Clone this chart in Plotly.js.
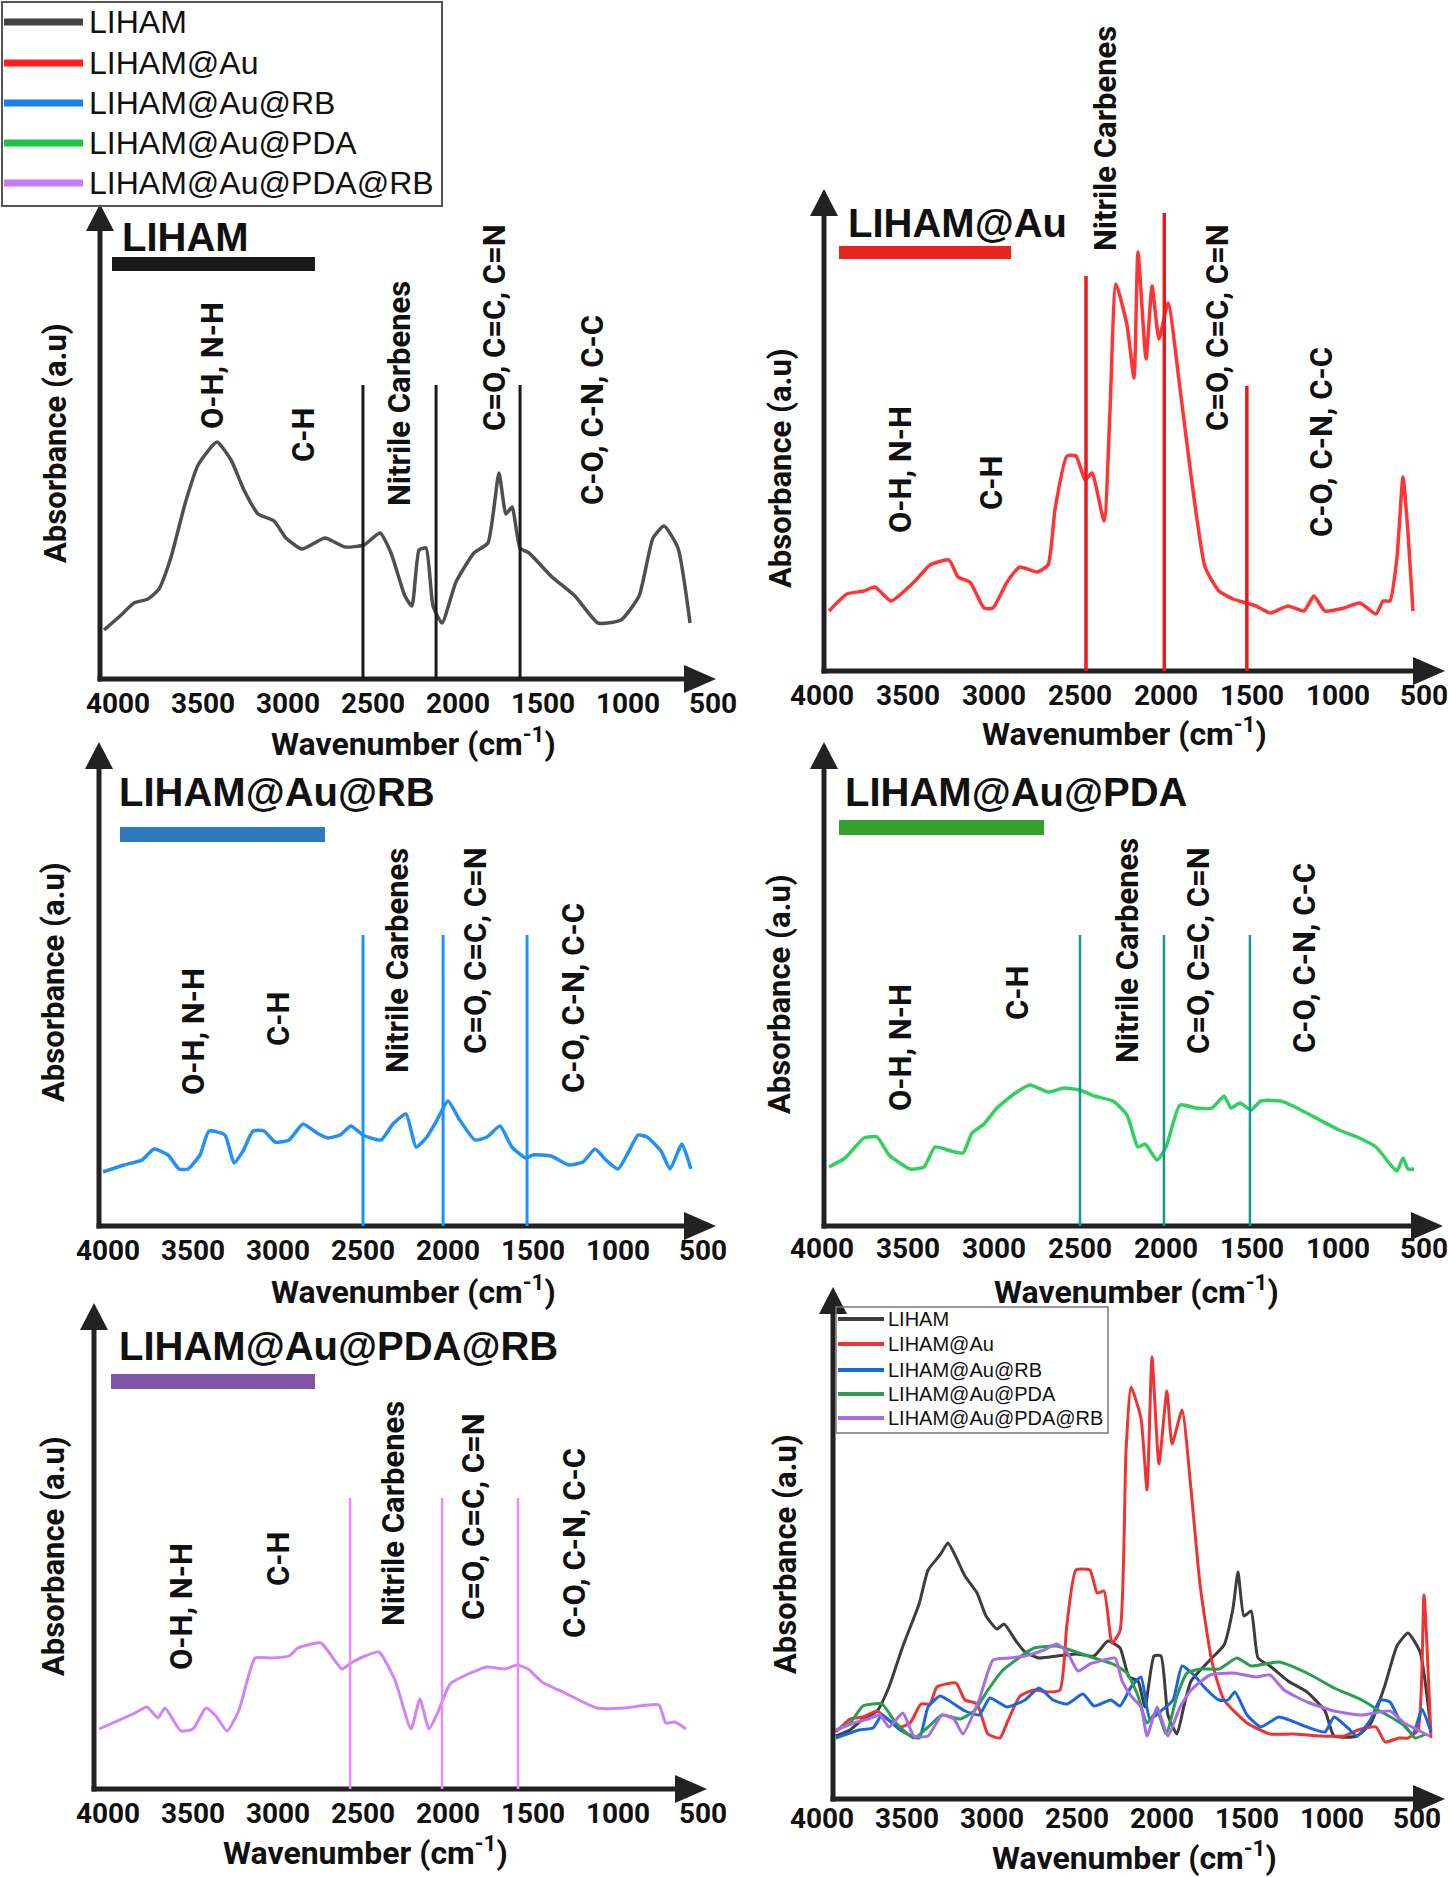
<!DOCTYPE html>
<html><head><meta charset="utf-8">
<script src="https://cdn.plot.ly/plotly-3.0.1.min.js"></script>
<style>html,body{margin:0;padding:0;background:#fff}#chart{width:1449px;height:1878px}</style>
</head><body><div id="chart"></div>
<script>
// ---------------- DATA ----------------
const seriesNames = ['LIHAM', 'LIHAM@Au', 'LIHAM@Au@RB', 'LIHAM@Au@PDA', 'LIHAM@Au@PDA@RB'];
const tickValues = [4000, 3500, 3000, 2500, 2000, 1500, 1000, 500];
const bandLabels = ['O-H, N-H', 'C-H', 'Nitrile Carbenes', 'C=O, C=C, C=N', 'C-O, C-N, C-C'];
const xTitle = 'Wavenumber (cm<sup>-1</sup>)';
const yTitle = 'Absorbance (a.u)';

// Panel 1: LIHAM
const lihamWn  = [4082,3988,3906,3824,3759,3688,3606,3529,3418,3335,3259,3176,3082,3012,2918,2782,2665,2553,2459,2394,2312,2271,2229,2188,2147,2094,2012,1906,1824,1759,1718,1682,1635,1582,1447,1312,1176,1041,935,853,788,706,635];
const lihamAbs = [49,63,76,80,90,122,175,214,237,219,189,165,158,141,130,141,132,134,146,126,83,73,129,131,73,56,97,126,136,206,165,172,131,126,102,83,56,59,83,141,153,131,56];
const lihamBands = [2559, 2129, 1635];
const lihamBandTop = [294, 294, 294];

// Panel 2: LIHAM@Au
const auWn  = [3959,3855,3756,3692,3599,3465,3372,3262,3209,3140,3058,3006,2924,2849,2750,2686,2645,2576,2523,2471,2430,2360,2326,2291,2227,2186,2163,2116,2081,2041,1988,1919,1855,1773,1692,1610,1477,1395,1290,1198,1140,1076,965,872,779,738,698,657,622,593,564];
const auAbs = [60,77,80,84,70,89,106,111,94,89,63,63,89,104,99,106,162,215,215,191,198,150,259,387,346,293,419,312,385,332,368,283,196,104,80,72,65,58,65,60,75,60,63,68,57,70,70,114,194,138,60];
const auBands = [2465, 2010, 1530];
const auBandTop = [395, 458, 285];

// Panel 3: LIHAM@Au@RB
const rbWn  = [4029,3906,3800,3729,3647,3582,3529,3459,3406,3312,3259,3206,3147,3082,3018,2935,2853,2771,2706,2635,2571,2500,2394,2324,2247,2188,2124,2071,2000,1935,1841,1771,1694,1624,1541,1500,1394,1288,1206,1135,1071,1000,935,882,829,747,694,624,571];
const rbAbs = [54,61,66,77,71,57,57,71,95,91,63,75,95,95,84,86,102,93,88,91,100,91,86,102,112,79,89,104,125,107,86,89,100,79,68,71,70,61,64,77,66,57,75,91,89,75,57,82,57];
const rbBands = [2500, 2029, 1535];
const rbBandTop = [291, 291, 291];

// Panel 4: LIHAM@Au@PDA
const pdaWn  = [3959,3866,3756,3680,3610,3488,3407,3343,3250,3180,3128,3058,2983,2884,2791,2686,2593,2500,2418,2308,2227,2163,2122,2052,2000,1919,1826,1732,1663,1622,1570,1506,1448,1331,1238,1116,994,889,779,698,657,622,593,558];
const pdaAbs = [59,68,88,89,71,57,59,79,75,73,93,102,118,132,141,134,138,136,130,125,111,79,82,66,79,121,118,118,130,118,123,116,125,125,118,107,96,89,79,62,55,68,57,57];
const pdaBands = [2500, 2012, 1512];
const pdaBandTop = [291, 291, 291];

// Panel 5: LIHAM@Au@PDA@RB
const pdaRbWn  = [4053,3959,3853,3771,3706,3665,3571,3500,3424,3365,3300,3229,3135,3041,2935,2882,2747,2624,2571,2488,2406,2312,2218,2165,2112,2059,1988,1894,1771,1665,1594,1529,1447,1312,1124,965,829,759,718,665,600];
const pdaRbAbs = [60,67,75,82,71,81,58,60,81,73,58,79,131,131,133,141,146,120,126,133,137,109,60,90,60,77,105,114,122,120,124,120,107,96,81,81,84,84,66,67,60];
const pdaRbBands = [2576, 2035, 1588];
const pdaRbBandTop = [291, 291, 291];

// Panel 6: overlay
const ovLihamWn  = [3918,3835,3759,3676,3606,3524,3429,3376,3306,3259,3212,3159,3088,3035,2971,2929,2859,2806,2724,2618,2506,2400,2318,2247,2194,2141,2100,2047,2006,1965,1912,1871,1829,1718,1635,1582,1553,1518,1476,1435,1365,1259,1147,1041,988,853,771,688,618,553,482,418];
const ovLihamAbs = [63,69,80,88,112,153,195,229,244,256,242,223,206,183,170,175,158,147,141,143,145,143,158,151,122,118,92,143,143,84,65,93,118,139,154,191,227,183,188,141,133,118,107,88,63,63,76,114,153,166,147,69];
const ovAuWn  = [3918,3835,3759,3676,3618,3541,3482,3418,3365,3324,3212,3159,3088,3024,2953,2912,2835,2753,2671,2600,2559,2506,2424,2382,2341,2294,2247,2212,2182,2124,2088,2059,2018,1971,1941,1882,1829,1776,1706,1635,1500,1365,1229,1065,929,847,741,688,606,553,494,459,418];
const ovAuAbs = [67,80,82,88,80,72,76,95,95,112,116,99,95,65,61,76,103,109,107,109,175,229,229,206,208,156,168,347,412,381,309,442,335,408,355,389,309,214,137,99,76,65,65,63,63,69,72,57,61,61,69,204,61];
const ovRbWn  = [3918,3782,3700,3647,3541,3429,3376,3306,3241,3159,3076,3012,2912,2806,2724,2641,2559,2465,2400,2300,2247,2182,2124,2071,2006,1935,1882,1812,1747,1665,1612,1571,1500,1418,1312,1147,1041,988,906,853,771,718,659,606,524,471,418];
const ovRbAbs = [61,69,71,84,69,61,92,103,97,88,84,101,92,99,111,99,95,105,93,99,93,112,122,80,88,99,133,124,111,99,99,107,84,72,82,72,67,82,71,63,80,99,97,80,65,90,67];
const ovPdaWn  = [3918,3835,3759,3647,3565,3459,3376,3294,3188,3106,3024,2941,2859,2753,2618,2506,2400,2288,2206,2141,2088,2029,1976,1912,1853,1771,1665,1559,1476,1312,1147,988,824,718,635,565,512,447];
const ovPdaAbs = [69,76,93,95,76,61,72,84,80,88,109,128,139,151,153,147,141,135,126,103,76,88,65,103,126,130,130,141,133,137,126,111,99,88,80,72,61,65];
const ovPdaRbWn  = [3918,3812,3729,3659,3606,3524,3459,3376,3294,3224,3171,3076,2994,2900,2806,2694,2618,2559,2494,2424,2341,2276,2235,2182,2124,2088,2029,1965,1894,1829,1718,1582,1447,1365,1282,1147,988,824,659,576,494,429];
const ovPdaRbAbs = [69,76,80,84,72,86,63,63,84,80,65,99,139,141,143,149,155,147,128,135,139,141,118,103,92,63,92,63,92,109,124,126,122,124,109,97,88,84,88,76,69,63];

// ---------------- LAYOUT / STYLE ----------------
const W = 1449, H = 1878;
const px = x => x / W, py = y => 1 - y / H;
const AX = '#222222';

const panels = [
  {axX:100, x4000:118, s:85, dx0:100, tipX:716, yb:679, tipY:204, pad:5,
   wn:lihamWn, abs:lihamAbs, color:'#4f4f4f', width:3.5, bands:lihamBands, bandTop:lihamBandTop, bandColor:'#1a1a1a', bandWidth:3,
   title:seriesNames[0], titleX:120, titleY:237, bar:[112,257,315,271], barColor:'#1a1a1a',
   labels:[[213,366],[303,435],[399,394],[494,328],[592,410]], yt:[55,443], xt:[413,742]},
  {axX:824, x4000:822, s:86, dx0:815, tipX:1445, yb:671, tipY:189, pad:5,
   wn:auWn, abs:auAbs, color:'#ff3434', width:3.5, bands:auBands, bandTop:auBandTop, bandColor:'#ea1a1a', bandWidth:3.5,
   title:seriesNames[1], titleX:846, titleY:223, bar:[839,246,1011,259], barColor:'#e8261f',
   labels:[[900,469],[992,483],[1106,139],[1217,328],[1321,442]], yt:[780,468], xt:[1124,732]},
  {axX:99, x4000:108, s:85, dx0:99, tipX:716, yb:1226, tipY:742, pad:5,
   wn:rbWn, abs:rbAbs, color:'#2490f5', width:3.5, bands:rbBands, bandTop:rbBandTop, bandColor:'#1e90ff', bandWidth:3,
   title:seriesNames[2], titleX:117, titleY:792, bar:[120,827,325,842], barColor:'#2f78bd',
   labels:[[193,1032],[278,1019],[397,961],[475,951],[574,998]], yt:[53,982], xt:[413,1290]},
  {axX:824, x4000:822, s:86, dx0:815, tipX:1443, yb:1226, tipY:742, pad:3,
   wn:pdaWn, abs:pdaAbs, color:'#33d060', width:3.5, bands:pdaBands, bandTop:pdaBandTop, bandColor:'#17978d', bandWidth:2.5,
   title:seriesNames[3], titleX:843, titleY:792, bar:[839,820,1044,835], barColor:'#35a02c',
   labels:[[900,1047],[1017,993],[1127,951],[1198,951],[1304,958]], yt:[780,994], xt:[1136,1290]},
  {axX:94, x4000:108, s:85, dx0:94, tipX:707, yb:1789, tipY:1303, pad:5,
   wn:pdaRbWn, abs:pdaRbAbs, color:'#d283f7', width:3, bands:pdaRbBands, bandTop:pdaRbBandTop, bandColor:'#ea8cf7', bandWidth:2.5,
   title:seriesNames[4], titleX:117, titleY:1346, bar:[111,1374,315,1389], barColor:'#7f56a5',
   labels:[[181,1607],[278,1559],[393,1513],[473,1516],[574,1543]], yt:[53,1556], xt:[365,1851]},
  {axX:833, x4000:822, s:85, dx0:810, tipX:1445, yb:1799, tipY:1287, pad:0,
   yt:[785,1554], xt:[1134,1856]}
];

const overlay = [
  {wn:ovLihamWn, abs:ovLihamAbs, color:'#3d3d3d'},
  {wn:ovAuWn, abs:ovAuAbs, color:'#ee3333'},
  {wn:ovRbWn, abs:ovRbAbs, color:'#1a66dd'},
  {wn:ovPdaWn, abs:ovPdaAbs, color:'#2a9d4f'},
  {wn:ovPdaRbWn, abs:ovPdaRbAbs, color:'#a86ce6'}
];
const bigLegendColors = ['#444444','#ff1f1f','#1a80ee','#1ec44a','#c77cf5'];

const layout = {
  width: W, height: H, margin: {l:0, r:0, t:0, b:0},
  paper_bgcolor: '#ffffff', plot_bgcolor: 'rgba(0,0,0,0)', showlegend: false,
  shapes: [], annotations: []
};
const traces = [];
const boldFont = (size) => ({family:'Roboto, Arial, sans-serif', size:size, color:'#111111'});

panels.forEach((p, i) => {
  const n = i === 0 ? '' : String(i + 1);
  const wnAt = x => 4000 - (x - p.x4000) / p.s * 500;
  layout['xaxis' + n] = {
    domain: [px(p.dx0), px(p.tipX)], range: [wnAt(p.dx0), wnAt(p.tipX)], anchor: 'y' + n,
    tickvals: tickValues, ticktext: tickValues.map(v => '<b>' + v + '</b>'),
    showgrid: false, zeroline: false, showline: false, ticks: '', fixedrange: true,
    tickfont: boldFont(28), ticklabelstandoff: p.pad
  };
  layout['yaxis' + n] = {
    domain: [py(p.yb), py(p.tipY)], range: [0, p.yb - p.tipY], anchor: 'x' + n,
    showticklabels: false, showgrid: false, zeroline: false, showline: false, ticks: '', fixedrange: true
  };
  // axes with arrows
  layout.shapes.push({type:'line', xref:'paper', yref:'paper', x0:px(p.axX), x1:px(p.axX), y0:py(p.yb + 2.5), y1:py(p.tipY + 20), line:{color:AX, width:5}});
  layout.shapes.push({type:'line', xref:'paper', yref:'paper', x0:px(p.axX - 2.5), x1:px(p.tipX - 25), y0:py(p.yb), y1:py(p.yb), line:{color:AX, width:5}});
  layout.shapes.push({type:'path', xref:'paper', yref:'paper', fillcolor:AX, line:{width:0},
    path:`M ${px(p.axX)} ${py(p.tipY)} L ${px(p.axX - 14)} ${py(p.tipY + 27)} L ${px(p.axX + 14)} ${py(p.tipY + 27)} Z`});
  layout.shapes.push({type:'path', xref:'paper', yref:'paper', fillcolor:AX, line:{width:0},
    path:`M ${px(p.tipX)} ${py(p.yb)} L ${px(p.tipX - 32)} ${py(p.yb - 14)} L ${px(p.tipX - 32)} ${py(p.yb + 14)} Z`});
  // axis titles
  layout.annotations.push({xref:'paper', yref:'paper', x:px(p.yt[0]), y:py(p.yt[1]), text:'<b>' + yTitle + '</b>', textangle:-90,
    showarrow:false, xanchor:'center', yanchor:'middle', font:boldFont(31)});
  layout.annotations.push({xref:'paper', yref:'paper', x:px(p.xt[0]), y:py(p.xt[1]), text:'<b>' + xTitle + '</b>',
    showarrow:false, xanchor:'center', yanchor:'middle', font:boldFont(32)});

  if (p.wn) {
    traces.push({x:p.wn, y:p.abs, xaxis:'x' + n, yaxis:'y' + n, type:'scatter', mode:'lines', name:p.title,
      line:{color:p.color, width:p.width, shape:'spline', smoothing:0.5}, hoverinfo:'skip'});
    p.bands.forEach((b, k) => {
      layout.shapes.push({type:'line', xref:'x' + n, yref:'y' + n, x0:b, x1:b, y0:0, y1:p.bandTop[k],
        line:{color:p.bandColor, width:p.bandWidth}});
    });
    bandLabels.forEach((t, k) => {
      layout.annotations.push({xref:'paper', yref:'paper', x:px(p.labels[k][0]), y:py(p.labels[k][1]),
        text:'<b>' + t + '</b>', textangle:-90, showarrow:false, xanchor:'center', yanchor:'middle', font:boldFont(31)});
    });
    layout.annotations.push({xref:'paper', yref:'paper', x:px(p.titleX), y:py(p.titleY), text:'<b>' + p.title + '</b>',
      showarrow:false, xanchor:'left', yanchor:'middle', font:{family:'Liberation Sans, Arial, sans-serif', size:40, color:'#111111'}});
    layout.shapes.push({type:'rect', xref:'paper', yref:'paper', x0:px(p.bar[0]), x1:px(p.bar[2]), y0:py(p.bar[1]), y1:py(p.bar[3]),
      fillcolor:p.barColor, line:{width:0}});
  } else {
    overlay.forEach((o, k) => {
      traces.push({x:o.wn, y:o.abs, xaxis:'x' + n, yaxis:'y' + n, type:'scatter', mode:'lines', name:seriesNames[k],
        line:{color:o.color, width:3, shape:'spline', smoothing:0.5}, hoverinfo:'skip'});
    });
  }
});

// big legend (top-left)
layout.shapes.push({type:'rect', xref:'paper', yref:'paper', x0:px(2), x1:px(442), y0:py(2), y1:py(206), line:{color:'#555555', width:2}, fillcolor:'rgba(0,0,0,0)'});
const bigRows = [22, 63, 103, 143, 183];
seriesNames.forEach((nm, k) => {
  layout.shapes.push({type:'line', xref:'paper', yref:'paper', x0:px(4), x1:px(83), y0:py(bigRows[k]), y1:py(bigRows[k]),
    line:{color:bigLegendColors[k], width:7}});
  layout.annotations.push({xref:'paper', yref:'paper', x:px(87), y:py(bigRows[k]), text:nm, showarrow:false,
    xanchor:'left', yanchor:'middle', font:{family:'Liberation Sans, Arial, sans-serif', size:32, color:'#111111'}});
});
// small legend (overlay panel)
layout.shapes.push({type:'rect', xref:'paper', yref:'paper', x0:px(836), x1:px(1108), y0:py(1307), y1:py(1433), line:{color:'#777777', width:1.5}, fillcolor:'rgba(255,255,255,0)'});
const smallRows = [1319, 1344, 1370, 1394, 1418];
seriesNames.forEach((nm, k) => {
  layout.shapes.push({type:'line', xref:'paper', yref:'paper', x0:px(838), x1:px(884), y0:py(smallRows[k]), y1:py(smallRows[k]),
    line:{color:overlay[k].color, width:4}});
  layout.annotations.push({xref:'paper', yref:'paper', x:px(886), y:py(smallRows[k]), text:nm, showarrow:false,
    xanchor:'left', yanchor:'middle', font:{family:'Liberation Sans, Arial, sans-serif', size:20, color:'#111111'}});
});

Plotly.newPlot('chart', traces, layout, {staticPlot:true, displayModeBar:false});
</script></body></html>
